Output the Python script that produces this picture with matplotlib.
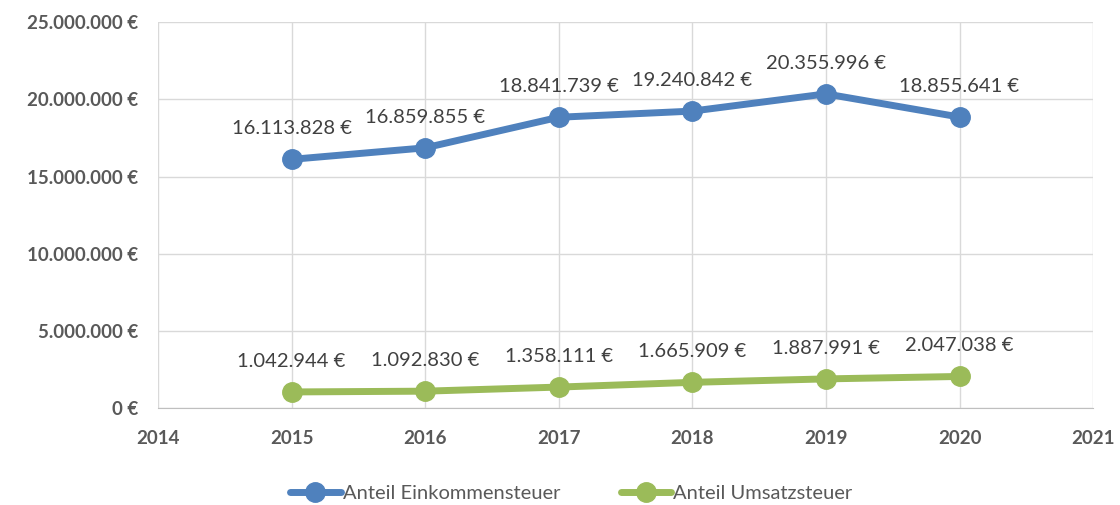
import numpy as np
import matplotlib.pyplot as plt
from matplotlib.ticker import FuncFormatter

years = [2015, 2016, 2017, 2018, 2019, 2020]
einkommen = [16113828, 16859855, 18841739, 19240842, 20355996, 18855641]
umsatz = [1042944, 1092830, 1358111, 1665909, 1887991, 2047038]
names = ["Anteil Einkommensteuer", "Anteil Umsatzsteuer"]
colors = ["#4f81bd", "#9bbb59"]

plt.rcParams['font.family'] = ['Lato', 'DejaVu Sans']

def euro(v):
    return "{:,.0f} €".format(v).replace(",", ".")

fig = plt.figure(figsize=(11.2, 5.05), dpi=100)
ax = fig.add_axes([0.141, 0.192, 0.835, 0.764])

for vals, col, name in zip([einkommen, umsatz], colors, names):
    ax.plot(years, vals, color=col, lw=5, marker='o', ms=14, label=name,
            solid_capstyle='round', zorder=3)
    for x, y in zip(years, vals):
        ax.annotate(euro(y), (x, y), xytext=(0, 16), textcoords='offset points',
                    ha='center', va='bottom', fontsize=14.5, color='#404040')

ax.set_xlim(2014, 2021)
ax.set_ylim(0, 25000000)
ax.set_xticks(range(2014, 2022))
ax.set_yticks(np.arange(0, 25000001, 5000000))
ax.yaxis.set_major_formatter(FuncFormatter(lambda v, p: euro(v)))
ax.grid(True, color='#d9d9d9', lw=1)
ax.set_axisbelow(True)
for s in ['top', 'right', 'left']:
    ax.spines[s].set_visible(False)
ax.spines['bottom'].set_color('#bfbfbf')
ax.tick_params(length=0, labelsize=13.5, labelcolor='#595959')
ax.tick_params(axis='x', pad=16)
ax.tick_params(axis='y', pad=14)
for lab in ax.get_xticklabels() + ax.get_yticklabels():
    lab.set_fontweight('bold')

fig.legend(loc='center', bbox_to_anchor=(0.51, 0.023), ncol=2, frameon=False,
           fontsize=14.5, labelcolor='#595959', handlelength=2.5, handletextpad=0.1,
           columnspacing=3)

fig.savefig("out.png", dpi=100)
